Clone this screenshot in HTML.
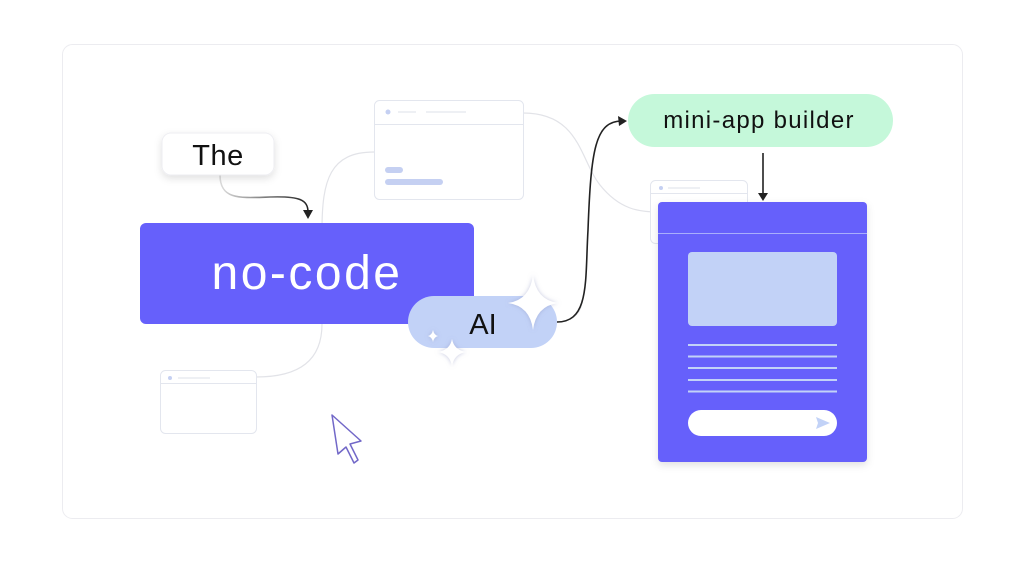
<!DOCTYPE html>
<html><head><meta charset="utf-8"><style>
html,body{margin:0;padding:0;background:#fff;}
svg{display:block}
text{font-family:"Liberation Sans",sans-serif;}
</style></head><body>
<svg width="1024" height="576" viewBox="0 0 1024 576" xmlns="http://www.w3.org/2000/svg">
<defs>
<filter id="sh" x="-30%" y="-30%" width="160%" height="180%"><feDropShadow dx="0" dy="3" stdDeviation="4" flood-color="#000" flood-opacity="0.12"/></filter>
<filter id="gl" x="-50%" y="-50%" width="200%" height="200%"><feDropShadow dx="0" dy="0" stdDeviation="2" flood-color="#8a90c0" flood-opacity="0.5"/></filter>
<linearGradient id="g1" x1="0" y1="0" x2="1" y2="0"><stop offset="0" stop-color="#ddd"/><stop offset="1" stop-color="#222"/></linearGradient>
</defs>
<rect x="62.5" y="44.5" width="900" height="474" rx="10" fill="#fff" stroke="#ececf0"/>
<g fill="none" stroke="#e2e3e8" stroke-width="1.2">
<path d="M374 152 C330 152 322 180 322 230"/>
<path d="M322 324 C322 360 300 377 256 377"/>
<path d="M523 113 C580 113 580 160 600 185 C620 210 640 212 658 212"/>
<path d="M557 322 C575 322 582 310 582 300"/>
</g>
<g fill="#fff" stroke="#e3e6ee">
<rect x="374.5" y="100.5" width="149" height="99" rx="5"/>
<line x1="374" y1="124.5" x2="523" y2="124.5"/>
<rect x="160.5" y="370.5" width="96" height="63" rx="5"/>
<line x1="160" y1="383.5" x2="256" y2="383.5"/>
<rect x="650.5" y="180.5" width="97" height="63" rx="5"/>
<line x1="650" y1="193.5" x2="747" y2="193.5"/>
</g>
<g fill="#c5d0f2"><circle cx="388" cy="112" r="2.5"/><circle cx="170" cy="378" r="2"/><circle cx="661" cy="188" r="2"/>
<rect x="385" y="167" width="18" height="6" rx="3"/><rect x="385" y="179" width="58" height="6" rx="3"/></g>
<g stroke="#dde1ea"><line x1="398" y1="112" x2="416" y2="112"/><line x1="426" y1="112" x2="466" y2="112"/><line x1="178" y1="378" x2="210" y2="378"/><line x1="668" y1="188" x2="700" y2="188"/></g>
<path d="M220 175 C220 200 240 198 270 197 C300 196 308 200 308 212" fill="none" stroke="url(#g1)" stroke-width="1.6"/>
<path d="M303 210 L313 210 L308 219 Z" fill="#222"/>
<rect x="162" y="133" width="112" height="42" rx="9" ry="9" fill="#fff" stroke="#eeeef2" filter="url(#sh)"/>
<text x="218" y="165" font-size="29" text-anchor="middle" fill="#111" letter-spacing="0.5">The</text>
<rect x="140" y="223" width="334" height="101" rx="6" fill="#6660fb"/>
<text x="307" y="289" font-size="48" text-anchor="middle" fill="#fff" letter-spacing="2.5">no-code</text>
<path d="M557 322 C590 322 585 280 588 230 C591 150 595 121 622 121" fill="none" stroke="#222" stroke-width="1.6"/>
<path d="M627 121 L618 116 L619 126 Z" fill="#222"/>
<rect x="408" y="296" width="149" height="52" rx="26" fill="#c2d2f7"/>
<text x="483" y="334" font-size="29" text-anchor="middle" fill="#111">AI</text>
<g fill="#fff" filter="url(#gl)">
<path d="M533 275 Q536 300 558 303 Q536 306 533 330 Q530 306 508 303 Q530 300 533 275Z"/>
<path d="M452 339 Q454 350 466 352 Q454 354 452 366 Q450 354 438 352 Q450 350 452 339Z"/>
<path d="M433 330 Q434 335 438 336 Q434 337 433 342 Q432 337 428 336 Q432 335 433 330Z"/>
</g>
<rect x="628" y="94" width="265" height="53" rx="26.5" fill="#c5f8da"/>
<text x="759" y="128" font-size="24" text-anchor="middle" fill="#111" letter-spacing="1.3">mini-app builder</text>
<line x1="763" y1="153" x2="763" y2="194" stroke="#222" stroke-width="1.6"/>
<path d="M758 193 L768 193 L763 201 Z" fill="#222"/>
<rect x="658" y="202" width="209" height="260" rx="4" fill="#6660fb" filter="url(#sh)"/>
<line x1="658" y1="233.5" x2="867" y2="233.5" stroke="#a9aefc"/>
<rect x="688" y="252" width="149" height="74" rx="4" fill="#c2d2f7"/>
<g stroke="#c2d2f7" stroke-width="2"><line x1="688" y1="345" x2="837" y2="345"/><line x1="688" y1="356.5" x2="837" y2="356.5"/><line x1="688" y1="368" x2="837" y2="368"/><line x1="688" y1="380" x2="837" y2="380"/><line x1="688" y1="391.5" x2="837" y2="391.5"/></g>
<rect x="688" y="410" width="149" height="26" rx="13" fill="#fff"/>
<path d="M816 417 L830 423 L816 429 L818 423Z" fill="#c2d2f7"/>
<path d="M332 415 L361 441 L350 444 L358 460 L354 463 L346 447 L338 454 Z" fill="#fff" stroke="#7268c8" stroke-width="1.5" stroke-linejoin="round"/>
</svg>
</body></html>
